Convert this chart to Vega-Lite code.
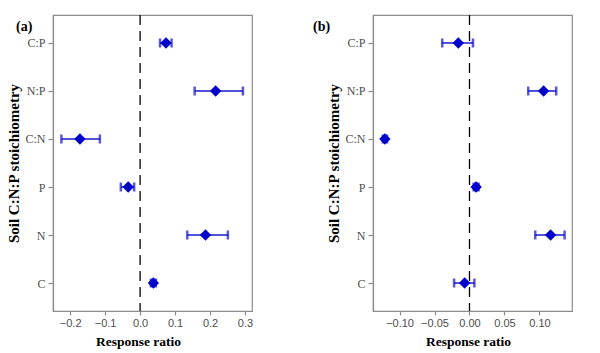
{
  "$schema": "https://vega.github.io/schema/vega-lite/v6.json",
  "background": "white",
  "padding": {"left": 6, "top": 13, "right": 5, "bottom": 5},
  "spacing": 58,
  "data": {"values": [
    {"panel": "a", "variable": "C:P", "mean": 0.074, "lo": 0.057, "hi": 0.09},
    {"panel": "a", "variable": "N:P", "mean": 0.216, "lo": 0.156, "hi": 0.294},
    {"panel": "a", "variable": "C:N", "mean": -0.172, "lo": -0.225, "hi": -0.115},
    {"panel": "a", "variable": "P", "mean": -0.034, "lo": -0.055, "hi": -0.017},
    {"panel": "a", "variable": "N", "mean": 0.187, "lo": 0.135, "hi": 0.251},
    {"panel": "a", "variable": "C", "mean": 0.038, "lo": 0.031, "hi": 0.045},
    {"panel": "b", "variable": "C:P", "mean": -0.016, "lo": -0.039, "hi": 0.005},
    {"panel": "b", "variable": "N:P", "mean": 0.106, "lo": 0.084, "hi": 0.124},
    {"panel": "b", "variable": "C:N", "mean": -0.121, "lo": -0.124, "hi": -0.118},
    {"panel": "b", "variable": "P", "mean": 0.0095, "lo": 0.006, "hi": 0.013},
    {"panel": "b", "variable": "N", "mean": 0.116, "lo": 0.094, "hi": 0.136},
    {"panel": "b", "variable": "C", "mean": -0.007, "lo": -0.022, "hi": 0.007}
  ]},
  "config": {
    "view": {"stroke": "#8c8c8c", "strokeWidth": 1.2},
    "axis": {
      "grid": false,
      "domainColor": "#8c8c8c",
      "domainWidth": 1.2,
      "tickColor": "#8c8c8c",
      "tickWidth": 1.2,
      "titleFont": "Liberation Serif",
      "titleFontWeight": "bold",
      "titleColor": "black"
    },
    "axisX": {"labelFont": "Liberation Sans", "labelFontSize": 11, "labelColor": "#4d4d4d", "tickSize": 4, "labelPadding": 2, "titlePadding": 6, "labelFlush": false, "labelOverlap": false, "titleFontSize": 13.5},
    "axisY": {"labelFont": "Liberation Serif", "labelFontSize": 12, "labelColor": "#4d4d4d", "tickSize": 5, "labelPadding": 3, "titlePadding": 3, "titleFontSize": 15},
    "title": {"font": "Liberation Serif", "fontWeight": "bold", "fontSize": 14, "color": "black", "anchor": "start", "frame": "group", "offset": 0}
  },
  "hconcat": [
    {
      "width": 199,
      "height": 296,
      "title": {"text": "(a)", "dx": -37, "dy": 24},
      "transform": [{"filter": "datum.panel === 'a'"}],
      "encoding": {
        "y": {"field": "variable", "type": "nominal", "sort": ["C:P", "N:P", "C:N", "P", "N", "C"],
              "scale": {"type": "point", "padding": 0.583},
              "axis": {"title": "Soil C:N:P stoichiometry"}},
        "x": {"field": "mean", "type": "quantitative", "scale": {"domain": [-0.249, 0.32], "nice": false, "zero": false},
              "axis": {"title": "Response ratio", "values": [-0.2, -0.1, 0.0, 0.1, 0.2, 0.3], "tickCount": 6, "format": ".1f", "titleX": 85, "labelOverlap": false}}
      },
      "layer": [
        {
          "data": {"values": [{"mean": 0}]},
          "mark": {"type": "rule", "color": "black", "strokeWidth": 1.3, "strokeDash": [10, 6]},
          "encoding": {"y": null}
        },
        {
          "mark": {"type": "rule", "color": "#1a1acc", "strokeWidth": 1.5},
          "encoding": {
            "x": {"field": "lo", "type": "quantitative"},
            "x2": {"field": "hi"}
          }
        },
        {
          "mark": {"type": "tick", "color": "#1010cc", "thickness": 2.5, "size": 9, "orient": "vertical"},
          "encoding": {"x": {"field": "lo", "type": "quantitative"}}
        },
        {
          "mark": {"type": "tick", "color": "#1010cc", "thickness": 2.5, "size": 9, "orient": "vertical"},
          "encoding": {"x": {"field": "hi", "type": "quantitative"}}
        },
        {
          "mark": {"type": "point", "shape": "diamond", "filled": true, "color": "#0000cc", "size": 130, "opacity": 1},
          "encoding": {}
        }
      ]
    },
    {
      "width": 199,
      "height": 296,
      "title": {"text": "(b)", "dx": -60, "dy": 24},
      "transform": [{"filter": "datum.panel === 'b'"}],
      "encoding": {
        "y": {"field": "variable", "type": "nominal", "sort": ["C:P", "N:P", "C:N", "P", "N", "C"],
              "scale": {"type": "point", "padding": 0.583},
              "axis": {"title": "Soil C:N:P stoichiometry"}},
        "x": {"field": "mean", "type": "quantitative", "scale": {"domain": [-0.138, 0.1466], "nice": false, "zero": false},
              "axis": {"title": "Response ratio", "values": [-0.1, -0.05, 0.0, 0.05, 0.1], "format": ".2f", "titleX": 95, "labelOverlap": false}}
      },
      "layer": [
        {
          "data": {"values": [{"mean": 0}]},
          "mark": {"type": "rule", "color": "black", "strokeWidth": 1.3, "strokeDash": [10, 6]},
          "encoding": {"y": null}
        },
        {
          "mark": {"type": "rule", "color": "#1a1acc", "strokeWidth": 1.5},
          "encoding": {
            "x": {"field": "lo", "type": "quantitative"},
            "x2": {"field": "hi"}
          }
        },
        {
          "mark": {"type": "tick", "color": "#1010cc", "thickness": 2.5, "size": 9, "orient": "vertical"},
          "encoding": {"x": {"field": "lo", "type": "quantitative"}}
        },
        {
          "mark": {"type": "tick", "color": "#1010cc", "thickness": 2.5, "size": 9, "orient": "vertical"},
          "encoding": {"x": {"field": "hi", "type": "quantitative"}}
        },
        {
          "mark": {"type": "point", "shape": "diamond", "filled": true, "color": "#0000cc", "size": 130, "opacity": 1},
          "encoding": {}
        }
      ]
    }
  ]
}
